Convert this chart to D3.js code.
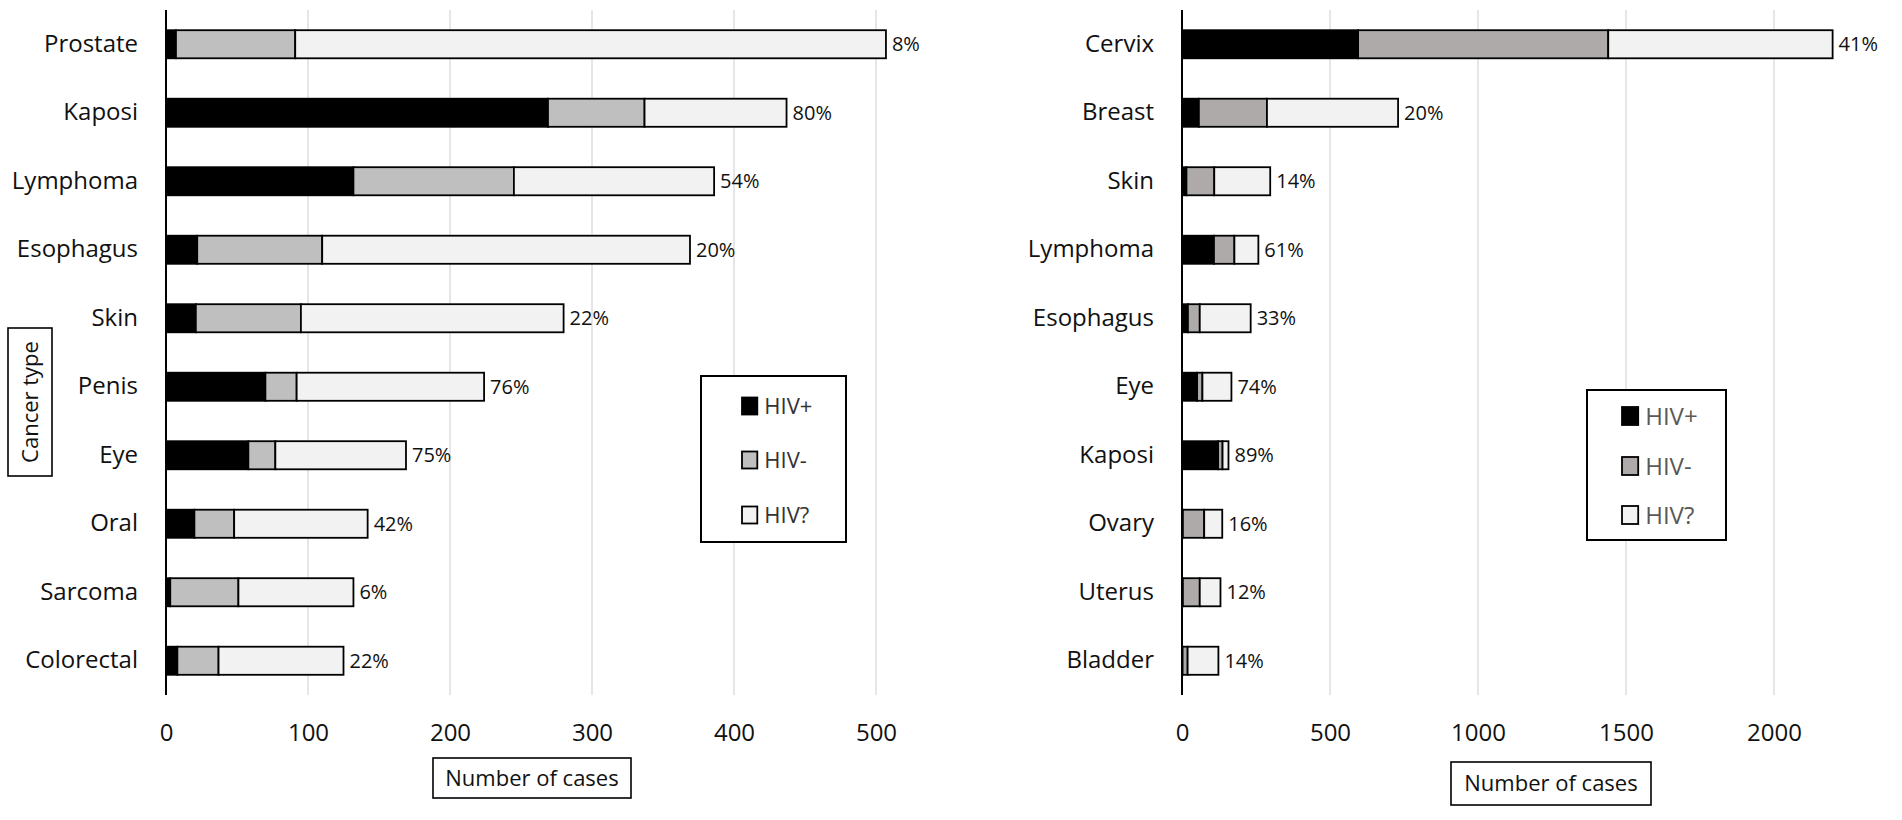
<!DOCTYPE html>
<html>
<head>
<meta charset="utf-8">
<script src="https://cdn.jsdelivr.net/npm/d3@7"></script>
<style>
  html, body { margin: 0; padding: 0; background: #fff; }
  svg { display: block; font-family: "Open Sans", sans-serif; }
</style>
</head>
<body>
<svg id="chart" width="1902" height="820"></svg>
<script>
// ---------------- DATA ----------------
const leftCategories = ["Prostate","Kaposi","Lymphoma","Esophagus","Skin","Penis","Eye","Oral","Sarcoma","Colorectal"];
const leftHivPos  = [7, 269, 132, 22, 21, 70, 58, 20, 3, 8];
const leftHivNeg  = [84, 68, 113, 88, 74, 22, 19, 28, 48, 29];
const leftHivUnk  = [416, 100, 141, 259, 185, 132, 92, 94, 81, 88];
const leftPctLabels = ["8%","80%","54%","20%","22%","76%","75%","42%","6%","22%"];
const leftTicks = [0, 100, 200, 300, 400, 500];

const rightCategories = ["Cervix","Breast","Skin","Lymphoma","Esophagus","Eye","Kaposi","Ovary","Uterus","Bladder"];
const rightHivPos  = [595, 57, 15, 108, 20, 51, 122, 3, 3, 2];
const rightHivNeg  = [845, 230, 94, 69, 40, 18, 15, 72, 57, 17];
const rightHivUnk  = [758, 443, 189, 81, 172, 98, 20, 61, 70, 104];
const rightPctLabels = ["41%","20%","14%","61%","33%","74%","89%","16%","12%","14%"];
const rightTicks = [0, 500, 1000, 1500, 2000];

const seriesNames = ["HIV+","HIV-","HIV?"];
const axisTitle = "Number of cases";
const yTitle = "Cancer type";

// ---------------- DRAW ----------------
const svg = d3.select("#chart");

function drawPanel(opt) {
  const g = svg.append("g");
  const x = d3.scaleLinear().domain(opt.domain).range(opt.xRange);
  const y = d3.scaleBand().domain(opt.categories).range([10, 695])
              .paddingInner(0.59).paddingOuter(0.295);

  // gridlines
  g.append("g").selectAll("line").data(opt.ticks.filter(t => t > 0)).join("line")
    .attr("x1", d => x(d)).attr("x2", d => x(d))
    .attr("y1", 10).attr("y2", 695)
    .attr("stroke", "#d9d9d9").attr("stroke-width", 1.3);

  // x axis tick labels via d3 axis
  const xAxis = d3.axisBottom(x).tickValues(opt.ticks).tickSize(0).tickPadding(0).tickFormat(d3.format("d"));
  const ax = g.append("g").attr("transform", "translate(0,724)").call(xAxis);
  ax.select(".domain").remove();
  ax.selectAll("text").attr("font-size", 24).attr("fill", "#111")
    .attr("font-family", "Open Sans, sans-serif");

  // stacked data
  const rows = opt.categories.map((c, i) => ({cat: c, pos: opt.pos[i], neg: opt.neg[i], unk: opt.unk[i], pct: opt.pct[i]}));
  const stack = d3.stack().keys(["pos","neg","unk"])(rows);
  const fills = opt.fills;

  stack.forEach((layer, li) => {
    g.append("g").selectAll("rect").data(layer).join("rect")
      .attr("x", d => x(d[0]))
      .attr("y", d => y(d.data.cat))
      .attr("width", d => Math.max(0, x(d[1]) - x(d[0])))
      .attr("height", y.bandwidth())
      .attr("fill", fills[li])
      .attr("stroke", "#000")
      .attr("stroke-width", 1.8);
  });

  // axis line
  g.append("line").attr("x1", x(0)).attr("x2", x(0)).attr("y1", 10).attr("y2", 695)
    .attr("stroke", "#000").attr("stroke-width", 2);

  // category labels via d3 axis
  const yAxis = d3.axisLeft(y).tickSize(0).tickPadding(28);
  const ay = g.append("g").attr("transform", `translate(${x(0)},0)`).call(yAxis);
  ay.select(".domain").remove();
  ay.selectAll("text").attr("font-size", 24).attr("fill", "#111")
    .attr("font-family", "Open Sans, sans-serif");

  // percent labels
  g.append("g").selectAll("text").data(rows).join("text")
    .attr("x", d => x(d.pos + d.neg + d.unk) + 6)
    .attr("y", d => y(d.cat) + y.bandwidth() / 2)
    .attr("dy", "0.35em")
    .attr("font-size", 20).attr("fill", "#111")
    .text(d => d.pct);

  // axis title box
  const tb = opt.titleBox;
  g.append("rect").attr("x", tb[0]).attr("y", tb[1]).attr("width", tb[2]).attr("height", tb[3])
    .attr("fill", "#fff").attr("stroke", "#000").attr("stroke-width", 1.6);
  g.append("text").attr("x", tb[0] + tb[2] / 2).attr("y", tb[1] + tb[3] / 2).attr("dy", "0.35em")
    .attr("text-anchor", "middle").attr("font-size", 22).attr("fill", "#111").text(axisTitle);

  // legend
  const lb = opt.legendBox;
  const lg = g.append("g");
  lg.append("rect").attr("x", lb[0]).attr("y", lb[1]).attr("width", lb[2]).attr("height", lb[3])
    .attr("fill", "#fff").attr("stroke", "#000").attr("stroke-width", 2);
  seriesNames.forEach((s, i) => {
    const yy = opt.legendItemY[i];
    lg.append("rect").attr("x", opt.legendSwX).attr("y", yy - opt.legendSw / 2)
      .attr("width", opt.legendSw * 0.9).attr("height", opt.legendSw)
      .attr("fill", fills[i]).attr("stroke", "#000").attr("stroke-width", 1.8);
    lg.append("text").attr("x", opt.legendSwX + opt.legendSw * 0.9 + 7).attr("y", yy).attr("dy", "0.36em")
      .attr("font-size", opt.legendFont).attr("fill", opt.legendColor).text(s);
  });
}

drawPanel({
  categories: leftCategories, pos: leftHivPos, neg: leftHivNeg, unk: leftHivUnk, pct: leftPctLabels,
  domain: [0, 500], xRange: [166, 876], ticks: leftTicks,
  fills: ["#000000", "#bfbfbf", "#f2f2f2"],
  titleBox: [433, 758, 198, 40],
  legendBox: [701, 376, 145, 166],
  legendItemY: [406, 460, 515], legendSwX: 742, legendSw: 17, legendFont: 22, legendColor: "#333"
});

drawPanel({
  categories: rightCategories, pos: rightHivPos, neg: rightHivNeg, unk: rightHivUnk, pct: rightPctLabels,
  domain: [0, 2000], xRange: [1182, 1774], ticks: rightTicks,
  fills: ["#000000", "#aeaaaa", "#f2f2f2"],
  titleBox: [1451, 762, 200, 43],
  legendBox: [1587, 390, 139, 150],
  legendItemY: [416, 466, 515], legendSwX: 1622, legendSw: 18, legendFont: 24, legendColor: "#595959"
});

// y title (left chart only)
svg.append("rect").attr("x", 8).attr("y", 328).attr("width", 44).attr("height", 148)
  .attr("fill", "#fff").attr("stroke", "#000").attr("stroke-width", 1.6);
svg.append("text").attr("transform", "translate(30,402) rotate(-90)")
  .attr("text-anchor", "middle").attr("dy", "0.35em")
  .attr("font-size", 22).attr("fill", "#111").text(yTitle);
</script>
</body>
</html>
